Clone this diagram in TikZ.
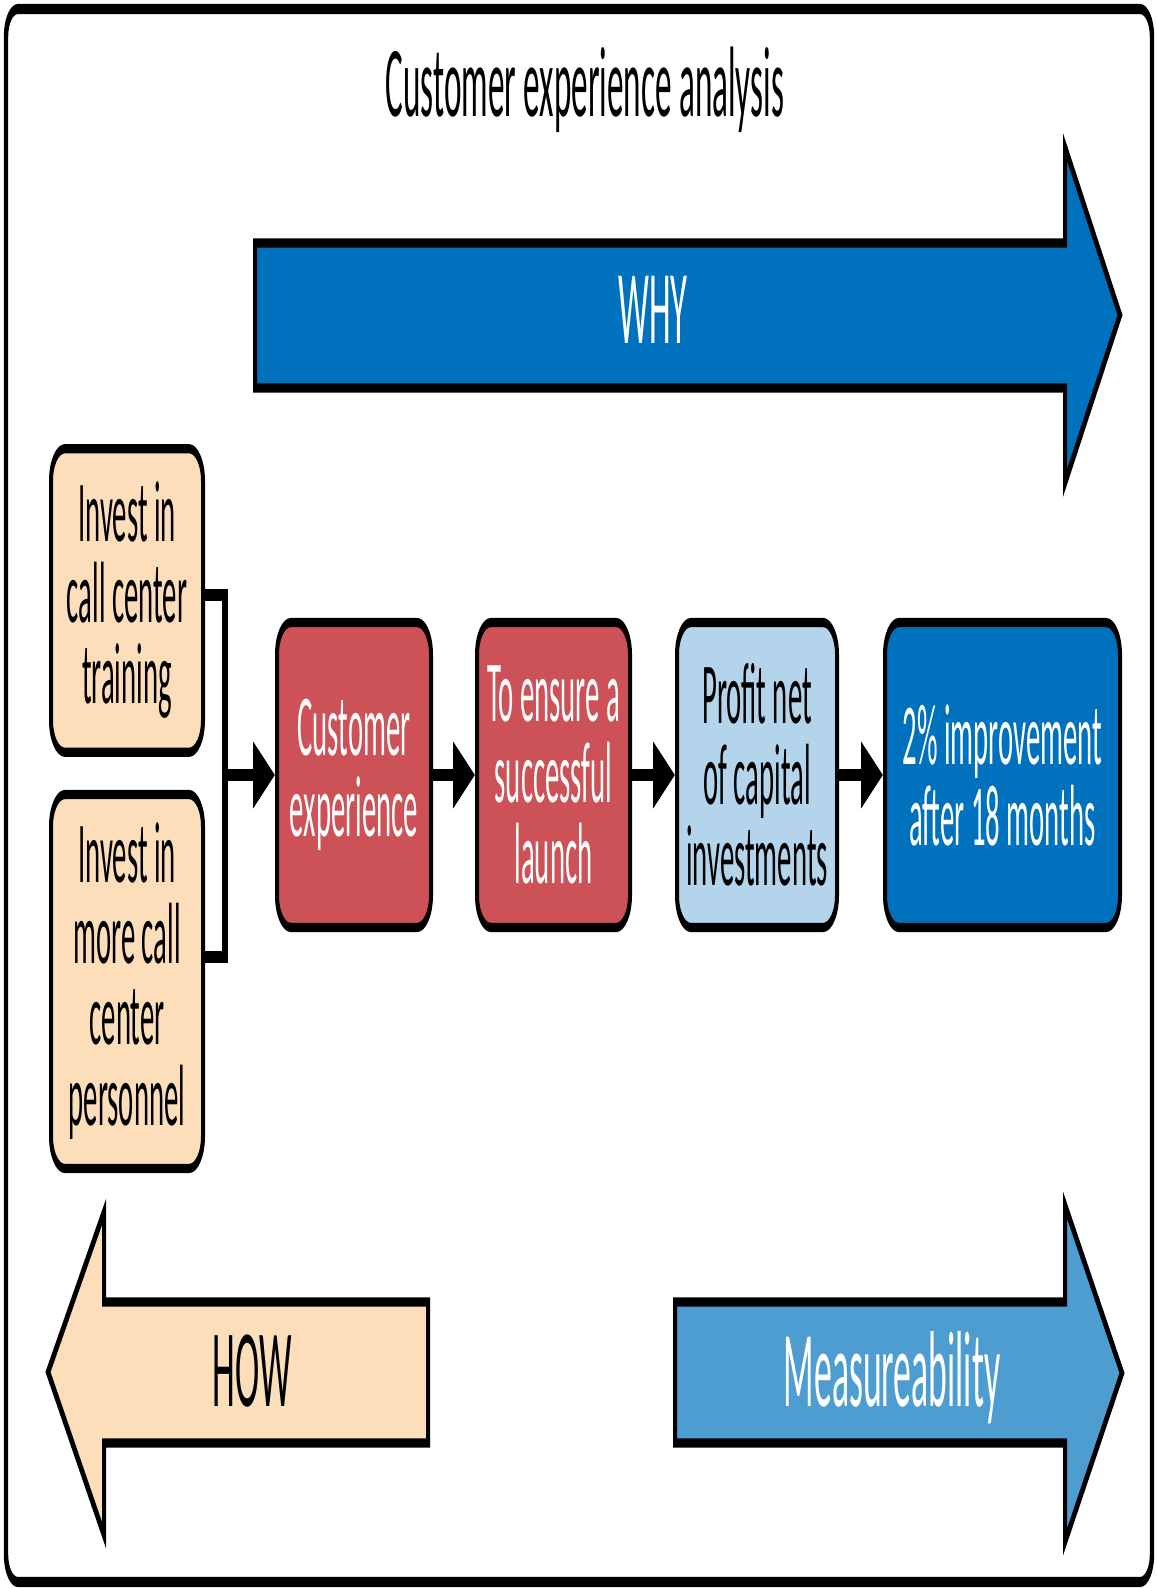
\documentclass[tikz,border=0pt]{standalone}
\usepackage{fontspec}
\setmainfont[FakeStretch=0.76]{Carlito}
\usetikzlibrary{arrows.meta}
\definecolor{peach}{HTML}{FCDEBA}
\definecolor{brick}{HTML}{CD5257}
\definecolor{paleblue}{HTML}{B3D4EA}
\definecolor{deepblue}{HTML}{0071BD}
\definecolor{midblue}{HTML}{4D9DD0}

\begin{document}
\begin{tikzpicture}[
  boxtext/.style={font=\fontsize{18.9pt}{17.6pt}\selectfont, align=center},
  stage/.style={draw=black, line width=2pt, rounded corners=7pt, boxtext, inner sep=0pt},
  chain/.style={line width=2.6pt, -{Triangle[width=13.9pt,length=11pt]}},
  bracket/.style={line width=2.6pt, line join=miter},
  bigarrow/.style={draw=black, line width=2pt, line join=miter},
  label/.style={anchor=base, inner sep=0pt}
]
\useasboundingbox[fill=white] (0,0) rectangle (578pt,-794pt);
% everything is laid out in pixel units and stretched vertically
\begin{scope}[transform canvas={yscale=2.3}, x=0.5pt, y=-0.217391pt]
  % outer frame
  \draw[line width=2.2pt, rounded corners=6pt] (6,9) rectangle (1152,1582);

  % title
  \node[label, font=\fontsize{21.8pt}{21.8pt}\selectfont] (title) at (585,117) {Customer experience analysis};

  % WHY arrow
  \draw[bigarrow, fill=deepblue] (255,243) -- (1065,243) -- (1065,147) -- (1120,315)
    -- (1065,483) -- (1065,388) -- (255,388) -- cycle;
  \node[label, text=white, font=\fontsize{22.8pt}{22.8pt}\selectfont] (why) at (653,344) {WHY};

  % actions
  \node[stage, fill=peach, minimum width=76pt, minimum height=66pt] (L1) at (127,600.5)
    {Invest in\\call center\\training};
  \node[stage, fill=peach, minimum width=76pt, minimum height=81.3pt] (L2) at (127,981.5)
    {Invest in\\more call\\center\\personnel};

  % chain of outcomes
  \node[stage, fill=brick, text=white, minimum width=77pt, minimum height=66.3pt] (R1) at (354,775)
    {Customer\\experience};
  \node[stage, fill=brick, text=white, minimum width=76.5pt, minimum height=66.3pt] (R2) at (553.5,775)
    {To ensure a\\successful\\launch};
  \node[stage, fill=paleblue, minimum width=80pt, minimum height=66.3pt] (B3) at (757,775)
    {Profit net\\of capital\\investments};
  \node[stage, fill=deepblue, text=white, minimum width=117.5pt, minimum height=66.3pt] (B4) at (1002.5,775)
    {2\% improvement\\after 18 months};

  % bracket joining the two actions
  \coordinate (jt) at (225,595);
  \coordinate (jm) at (225,775);
  \coordinate (jb) at (225,957);
  \draw[bracket] (L1.east |- jt) -- (jt) -- (jb) -- (L2.east |- jb);

  \draw[chain] (jm) -- (R1.west);
  \draw[chain] (R1.east) -- (R2.west);
  \draw[chain] (R2.east) -- (B3.west);
  \draw[chain] (B3.east) -- (B4.west);

  % HOW arrow
  \draw[bigarrow, fill=peach] (428,1302) -- (104,1302) -- (104,1212) -- (48,1372)
    -- (104,1535) -- (104,1443) -- (428,1443) -- cycle;
  \node[label, font=\fontsize{24pt}{24pt}\selectfont] (how) at (252,1406) {HOW};

  % Measureability arrow
  \draw[bigarrow, fill=midblue] (675,1302) -- (1065,1302) -- (1065,1205) -- (1122,1373)
    -- (1065,1542) -- (1065,1443) -- (675,1443) -- cycle;
  \node[label, text=white, font=\fontsize{23.5pt}{23.5pt}\selectfont] (meas) at (892,1406) {Measureability};
\end{scope}
\end{tikzpicture}
\end{document}
